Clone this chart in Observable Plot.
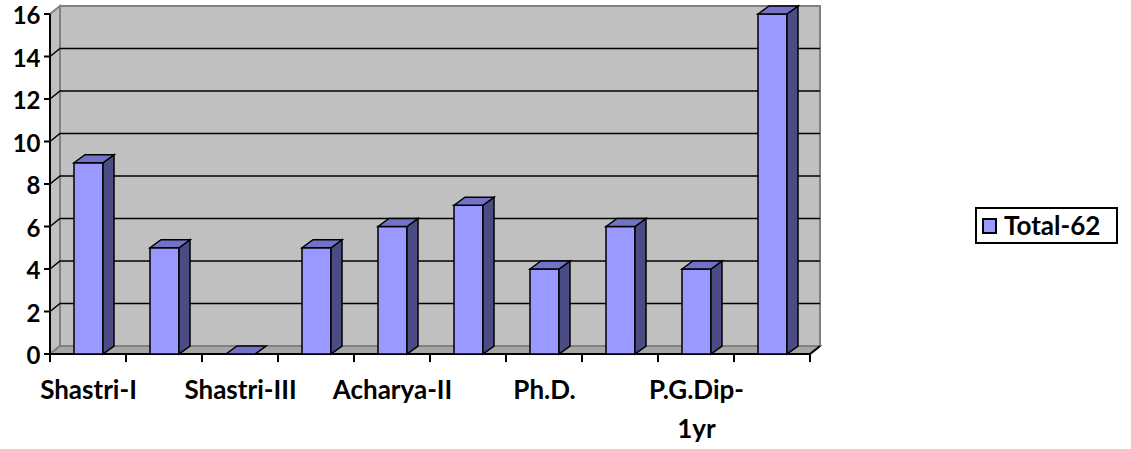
<!DOCTYPE html>
<html>
<head>
<meta charset="utf-8">
<script src="https://cdn.jsdelivr.net/npm/d3@7"></script>
<script src="https://cdn.jsdelivr.net/npm/@observablehq/plot@0.6"></script>
<style>
  body { margin: 0; background: #fff; }
  #wrap { position: relative; width: 1131px; height: 449px; overflow: hidden; }
  #wrap svg { overflow: visible; }
  #legend {
    position: absolute; left: 975px; top: 207px; width: 139px; height: 33px;
    border: 2px solid #000; background: #fff;
    font: bold 26px Lato, sans-serif; color: #000;
  }
  #legend .sw {
    position: absolute; left: 5px; top: 9px; width: 11px; height: 12px;
    border: 2px solid #000; background: #9999ff;
  }
  #legend .tx { position: absolute; left: 27px; top: 0px; line-height: 33px; white-space: nowrap; }
</style>
</head>
<body>
<div id="wrap"></div>
<script>
// ---- data ----
const categories = ["Shastri-I", "Shastri-II", "Shastri-III", "Acharya-I", "Acharya-II",
                    "Acharya-III", "Ph.D.", "Shiksha Shastri", "P.G.Dip-1yr", "Certificate"];
const values = [9, 5, 0, 5, 6, 7, 4, 6, 4, 16];
const tickLabels = ["Shastri-I", "", "Shastri-III", "", "Acharya-II", "", "Ph.D.", "", "P.G.Dip-\n1yr", ""];
const yTicks = [0, 2, 4, 6, 8, 10, 12, 14, 16];
const seriesName = "Total-62";

// ---- styles ----
const C = { front: "#9999ff", top: "#7272c8", side: "#4c4c85", wall: "#c0c0c0", floor: "#a6a6a6", edge: "#808080" };
const WALL = { dx: 10, dy: -8 };
const DEPTH = { dx: 11, dy: -8 };
const INSET_L = 24, INSET_R = 23;

const data = categories.map((c, i) => ({ category: c, value: values[i] }));

function polygon(g, pts, fill, stroke, sw) {
  return g.append("polygon")
    .attr("points", pts.map(p => p.join(",")).join(" "))
    .attr("fill", fill).attr("stroke", stroke).attr("stroke-width", sw)
    .attr("stroke-linejoin", "miter");
}
function bandwidth(x) {
  return typeof x.bandwidth === "function" ? x.bandwidth() : (x(categories[1]) - x(categories[0]));
}

function walls(index, scales, vals, dims) {
  const { marginLeft: L, marginTop: T, marginBottom: B, marginRight: R, width, height } = dims;
  const x0 = L, x1 = width - R, y0 = height - B, yT = T;
  const g = d3.create("svg:g");
  // back wall
  polygon(g, [[x0 + WALL.dx, yT + WALL.dy], [x1 + WALL.dx, yT + WALL.dy], [x1 + WALL.dx, y0 + WALL.dy], [x0 + WALL.dx, y0 + WALL.dy]], C.wall, C.edge, 2);
  // left wall
  polygon(g, [[x0, y0], [x0, yT], [x0 + WALL.dx, yT + WALL.dy], [x0 + WALL.dx, y0 + WALL.dy]], C.wall, C.edge, 2);
  // floor
  polygon(g, [[x0, y0], [x0 + WALL.dx, y0 + WALL.dy], [x1 + WALL.dx, y0 + WALL.dy], [x1, y0]], C.floor, C.edge, 2);
  // gridlines
  yTicks.filter(t => t > 0 && t < 16).forEach(t => {
    const y = scales.y(t);
    g.append("polyline")
      .attr("points", [[x0, y], [x0 + WALL.dx, y + WALL.dy], [x1 + WALL.dx, y + WALL.dy]].map(p => p.join(",")).join(" "))
      .attr("fill", "none").attr("stroke", "#000").attr("stroke-width", 1.5);
  });
  // axis lines
  g.append("line").attr("x1", x0).attr("x2", x0).attr("y1", yT).attr("y2", y0).attr("stroke", "#000").attr("stroke-width", 2);
  g.append("polyline").attr("points", [[x0, y0], [x1, y0], [x1 + WALL.dx, y0 + WALL.dy]].map(p => p.join(",")).join(" "))
    .attr("fill", "none").attr("stroke", "#000").attr("stroke-width", 2);
  // y ticks
  yTicks.forEach(t => {
    const y = scales.y(t);
    g.append("line").attr("x1", x0 - 6).attr("x2", x0).attr("y1", y).attr("y2", y).attr("stroke", "#000").attr("stroke-width", 2);
  });
  // x ticks at band boundaries
  const bw = bandwidth(scales.x);
  const edges = categories.map(c => scales.x(c)).concat([scales.x(categories[categories.length - 1]) + bw]);
  edges.forEach(xe => {
    g.append("line").attr("x1", xe).attr("x2", xe).attr("y1", y0).attr("y2", y0 + 8).attr("stroke", "#000").attr("stroke-width", 2);
  });
  return g.node();
}

function faces(index, scales, vals, dims) {
  const g = d3.create("svg:g");
  const bw = bandwidth(scales.x);
  data.forEach(d => {
    const xl = scales.x(d.category) + INSET_L, xr = scales.x(d.category) + bw - INSET_R;
    const yt = scales.y(d.value), yb = scales.y(0);
    polygon(g, [[xr, yt], [xr + DEPTH.dx, yt + DEPTH.dy], [xr + DEPTH.dx, yb + DEPTH.dy], [xr, yb]], C.side, "#000", 1.5);
    polygon(g, [[xl, yt], [xl + DEPTH.dx, yt + DEPTH.dy], [xr + DEPTH.dx, yt + DEPTH.dy], [xr, yt]], C.top, "#000", 1.5);
  });
  return g.node();
}

const chart = Plot.plot({
  width: 1131,
  height: 449,
  marginLeft: 50,
  marginRight: 321,
  marginTop: 14,
  marginBottom: 95,
  style: { fontFamily: "Lato, sans-serif", fontSize: "26px", fontWeight: "bold", background: "white", color: "black", overflow: "visible" },
  x: { domain: categories, padding: 0, label: null },
  y: { domain: [0, 16], label: null },
  marks: [
    walls,
    Plot.barY(data, { x: "category", y: "value", fill: C.front, stroke: "#000", strokeWidth: 1.5, insetLeft: INSET_L, insetRight: INSET_R }),
    faces,
    Plot.axisY({ ticks: yTicks, tickSize: 0, tickPadding: 10, dy: 2, fontSize: 24, fontWeight: "bold", label: null }),
    Plot.axisX({ tickSize: 0, tickPadding: 17, fontSize: 26, fontWeight: "bold", lineHeight: 1.5, label: null,
                 tickFormat: d => tickLabels[categories.indexOf(d)] })
  ]
});

const wrap = document.getElementById("wrap");
wrap.appendChild(chart);
const legend = document.createElement("div");
legend.id = "legend";
legend.innerHTML = '<div class="sw"></div><div class="tx"></div>';
legend.querySelector(".tx").textContent = seriesName;
wrap.appendChild(legend);
</script>
</body>
</html>
